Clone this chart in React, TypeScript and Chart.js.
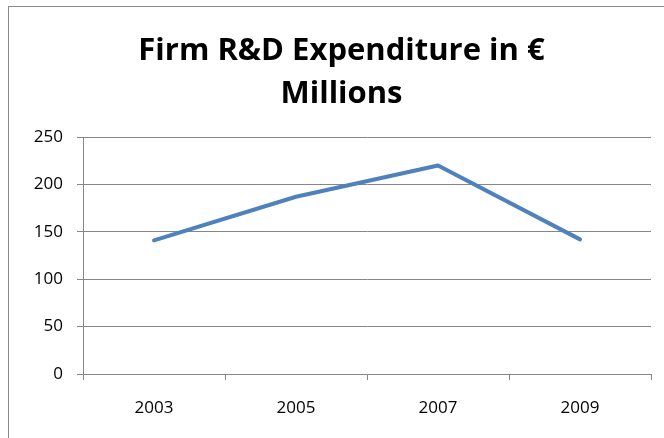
import React, { useEffect, useRef } from "react";
import { Chart, registerables } from "chart.js";

Chart.register(...registerables);

const years = ["2003", "2005", "2007", "2009"];
const expenditure = [141, 187, 220, 142];
const titleLines = ["Firm R&D Expenditure in €", "Millions"];
const yTicks = [0, 50, 100, 150, 200, 250];

const GRID = "#868686";
const FONT = "'Open Sans', 'DejaVu Sans', sans-serif";
const CANVAS_W = 700;

export default function App() {
  const ref = useRef<HTMLCanvasElement>(null);

  useEffect(() => {
    const chart = new Chart(ref.current as HTMLCanvasElement, {
      type: "line",
      data: {
        labels: years,
        datasets: [
          {
            data: expenditure,
            borderColor: "#4F81BD",
            backgroundColor: "#4F81BD",
            borderWidth: 4,
            pointRadius: 0,
            tension: 0,
            fill: false,
            borderCapStyle: "round",
            borderJoinStyle: "round",
          },
        ],
      },
      options: {
        responsive: false,
        animation: false,
        devicePixelRatio: 1,
        layout: { padding: { left: 32, right: CANVAS_W - 651, top: 0, bottom: 0 } },
        plugins: {
          legend: { display: false },
          tooltip: { enabled: false },
          title: {
            display: true,
            text: titleLines,
            color: "#000",
            font: { family: FONT, size: 31, weight: "bold", lineHeight: 43 / 31 },
            padding: { top: 30, bottom: 21 },
          },
        },
        scales: {
          x: {
            offset: true,
            grid: {
              offset: true,
              drawOnChartArea: false,
              drawTicks: true,
              tickLength: 6,
              color: GRID,
            },
            border: { color: GRID },
            ticks: {
              color: "#000",
              font: { family: FONT, size: 17 },
              padding: 18,
              maxRotation: 0,
            },
            afterFit: (s: any) => {
              s.height = 64;
            },
          },
          y: {
            min: 0,
            max: 250,
            afterBuildTicks: (s: any) => {
              s.ticks = yTicks.map((v) => ({ value: v }));
            },
            grid: { color: GRID, tickLength: 6 },
            border: { color: GRID },
            ticks: {
              color: "#000",
              font: { family: FONT, size: 17 },
              padding: 14,
            },
            afterFit: (s: any) => {
              s.width = 83 - 32;
            },
          },
        },
      },
    });
    return () => chart.destroy();
  }, []);

  return (
    <div
      style={{
        position: "fixed",
        left: 0,
        top: 0,
        width: 664,
        height: 438,
        background: "#fff",
        overflow: "hidden",
      }}
    >
      <div
        style={{
          position: "absolute",
          left: 8,
          top: 6,
          width: 720,
          height: 500,
          border: "1px solid #8a8a8a",
        }}
      />
      <canvas
        ref={ref}
        width={CANVAS_W}
        height={438}
        style={{ position: "absolute", left: 0, top: 0, width: CANVAS_W, height: 438 }}
      />
    </div>
  );
}
